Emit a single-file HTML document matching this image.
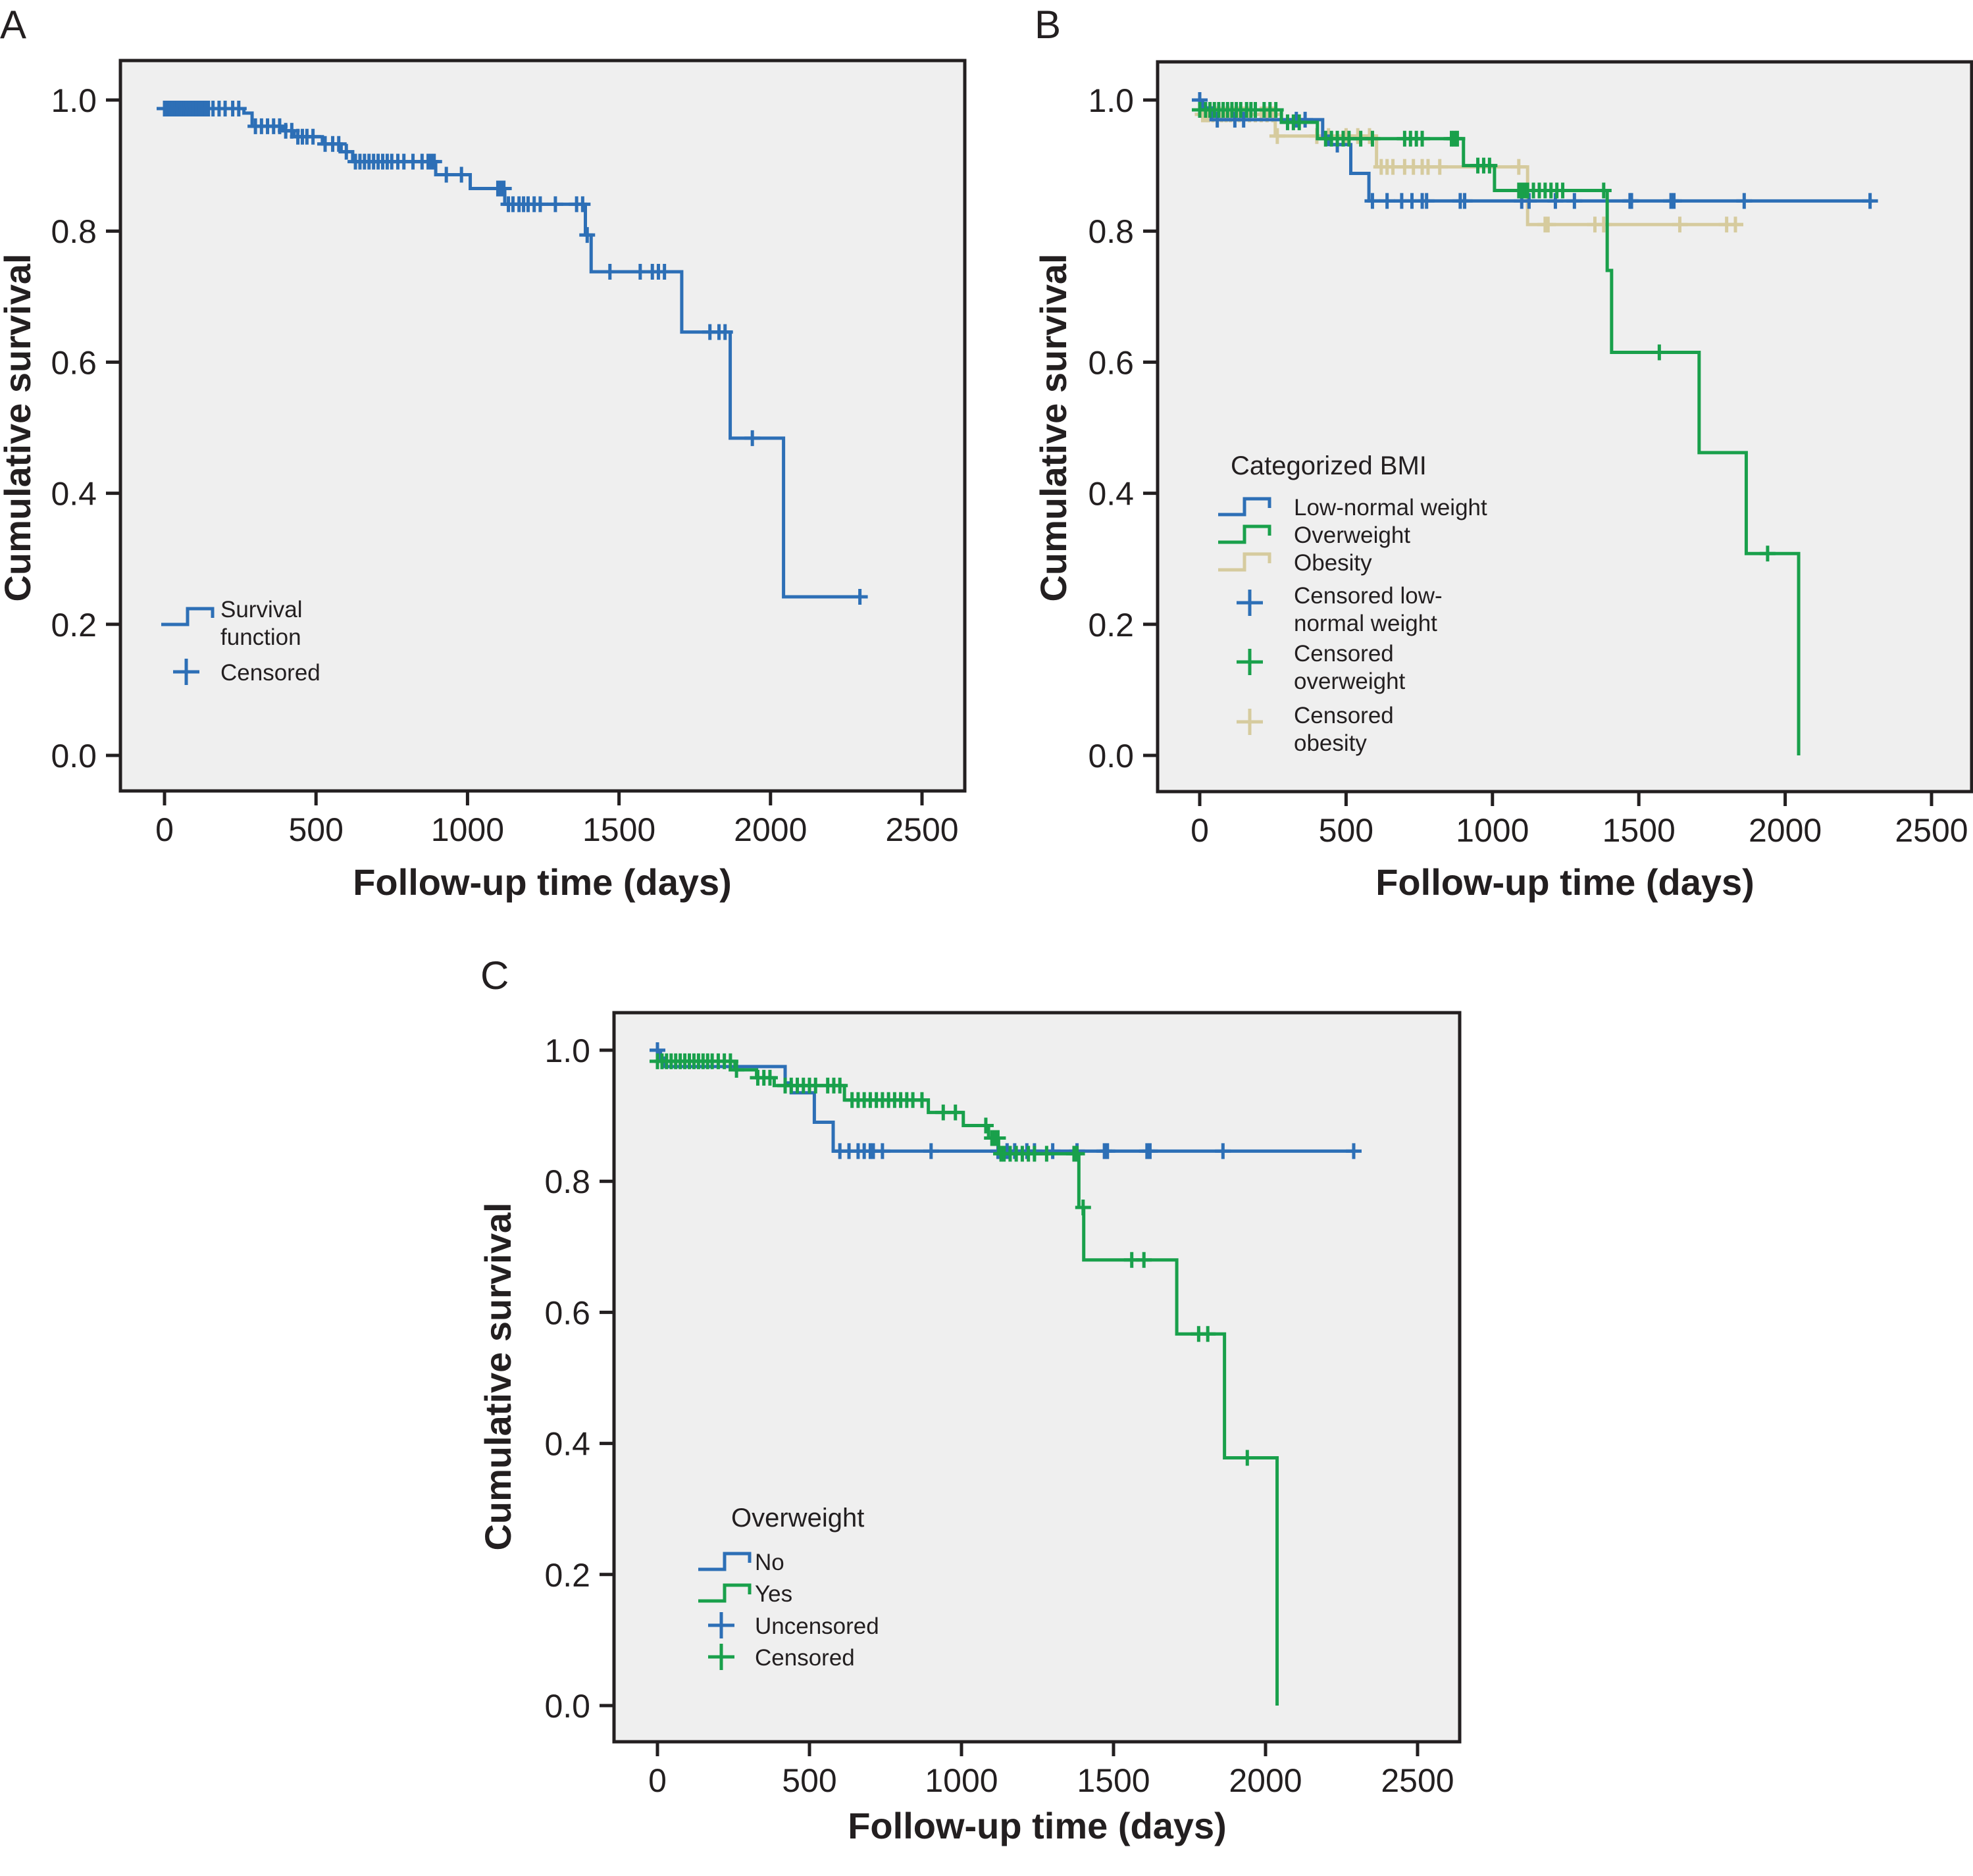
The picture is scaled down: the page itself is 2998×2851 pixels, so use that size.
<!DOCTYPE html>
<html><head><meta charset="utf-8"><style>
html,body{margin:0;padding:0;background:#fff;}
svg{display:block;font-family:"Liberation Sans",Arial,sans-serif;}
</style></head><body>
<svg id="fig" width="2998" height="2851" viewBox="0 0 2998 2851" xmlns="http://www.w3.org/2000/svg"></svg>
<script>
// ---- data ----
const xTicks = [0, 500, 1000, 1500, 2000, 2500];
const yTicks = [0, 0.2, 0.4, 0.6, 0.8, 1.0];

// Panel A: overall
const aStart = 0.987;
const aStepTimes = [262, 289, 390, 428, 521, 583, 621, 895, 1009, 1123, 1389, 1408, 1707, 1867, 2043];
const aStepValues = [0.980, 0.960, 0.953, 0.944, 0.933, 0.921, 0.906, 0.886, 0.865, 0.841, 0.794, 0.738, 0.646, 0.484, 0.242];
const aEnd = 2307;
const aCensor = [0,5,10,15,20,27,35,42,50,58,65,72,80,88,95,105,115,125,135,145,160,180,200,225,245,300,320,340,360,380,400,420,440,455,470,490,530,555,575,600,630,645,660,675,690,705,720,735,750,770,790,820,850,870,880,890,930,980,1100,1110,1115,1120,1135,1150,1170,1185,1200,1220,1240,1290,1360,1380,1395,1470,1570,1610,1630,1650,1800,1830,1850,1940,2295];

// Panel B: BMI categories
const bLowStart = 1.0;
const bLowTimes = [10, 40, 420, 440, 516, 578];
const bLowValues = [0.988, 0.970, 0.945, 0.932, 0.888, 0.846];
const bLowEnd = 2300;
const bLowCensor = [0,60,120,150,330,360,470,590,640,690,725,760,775,890,905,1100,1125,1215,1280,1470,1475,1610,1620,1860,2290];

const bOverStart = 0.985;
const bOverTimes = [279, 402, 901, 1007, 1392, 1407, 1706, 1867, 2046];
const bOverValues = [0.966, 0.941, 0.900, 0.862, 0.740, 0.615, 0.462, 0.308, 0.0];
const bOverEnd = 2046;
const bOverCensor = [0,20,35,50,65,80,95,110,125,140,160,175,190,220,240,260,300,320,340,430,450,470,490,510,550,590,700,720,740,760,860,870,880,950,970,990,1090,1100,1110,1120,1140,1160,1180,1200,1220,1240,1380,1570,1940];

const bObStart = 0.978;
const bObTimes = [258, 604, 1120];
const bObValues = [0.945, 0.898, 0.810];
const bObEnd = 1857;
const bObCensor = [10,20,30,45,60,75,90,105,120,135,150,170,190,210,230,250,265,400,440,500,540,580,620,640,660,700,730,760,780,820,1090,1180,1190,1350,1380,1640,1800,1830];

// Panel C: overweight no/yes
const cNoStart = 1.0;
const cNoTimes = [10, 25, 420, 440, 516, 578];
const cNoValues = [0.988, 0.975, 0.950, 0.935, 0.890, 0.846];
const cNoEnd = 2290;
const cNoCensor = [0,600,630,660,680,700,710,740,900,1120,1150,1175,1215,1240,1300,1380,1470,1480,1610,1620,1860,2290];

const cYesStart = 0.983;
const cYesTimes = [255, 326, 384, 615, 891, 1006, 1089, 1122, 1386, 1402, 1708, 1865, 2038];
const cYesValues = [0.970, 0.958, 0.946, 0.924, 0.905, 0.885, 0.866, 0.842, 0.760, 0.680, 0.567, 0.378, 0.0];
const cYesEnd = 2038;
const cYesCensor = [0,15,30,45,60,75,90,105,120,135,150,165,180,200,220,240,260,330,350,370,420,440,460,480,500,520,560,580,600,640,660,680,700,720,740,760,780,800,820,840,870,940,980,1080,1100,1110,1120,1130,1140,1160,1180,1200,1220,1240,1280,1370,1380,1400,1560,1600,1780,1810,1940];

// ---- drawing ----
const NS = "http://www.w3.org/2000/svg";
const svg = document.getElementById('fig');
const BLUE = "#2d6fb6", GREEN = "#19a04b", TAN = "#d6cb9e", INK = "#231f20";

function mk(tag, attrs, parent) {
  const e = document.createElementNS(NS, tag);
  for (const k in attrs) e.setAttribute(k, attrs[k]);
  (parent || svg).appendChild(e);
  return e;
}
function txt(s, attrs, parent) { const e = mk('text', attrs, parent); e.textContent = s; return e; }

function panel(p) {
  const g = mk('g', {});
  
  
  const sx = t => p.x0 + (t / 2500) * (p.x2500 - p.x0);
  const sy = v => p.y0 - v * (p.y0 - p.y1);
  const bg = mk('rect', {x: p.L, y: p.T, width: p.R - p.L, height: p.B - p.T, fill: '#efefef', stroke: INK, 'stroke-width': 5}, g);
  
  
  xTicks.forEach(t => {
    const x = sx(t);
    const l = mk('line', {x1: x, x2: x, y1: p.B, y2: p.B + 22, stroke: INK, 'stroke-width': 5}, g);
    
    
    const tl = txt(String(t), {x: x, y: p.B + 76, 'font-size': 50, 'text-anchor': 'middle', fill: INK}, g);
    
    
  });
  yTicks.forEach(v => {
    const y = sy(v);
    const l = mk('line', {x1: p.L - 22, x2: p.L, y1: y, y2: y, stroke: INK, 'stroke-width': 5}, g);
    
    
    const tl = txt(v.toFixed(1), {x: p.L - 36, y: y + 18, 'font-size': 50, 'text-anchor': 'end', fill: INK}, g);
    
    
  });
  const xt = txt('Follow-up time (days)', {x: p.xtX, y: p.xtY, 'font-size': 56, 'font-weight': 'bold', 'text-anchor': 'middle', fill: INK}, g);
  
  
  const yt = txt('Cumulative survival', {x: 0, y: 0, 'font-size': 56, 'font-weight': 'bold', 'text-anchor': 'middle', fill: INK, transform: `translate(${p.ytX},${p.ytY}) rotate(-90)`}, g);
  
  
  const lt = txt(p.letter, {x: p.letX, y: p.letY, 'font-size': 60, fill: INK}, g);
  
  
  return {g, sx, sy};
}

function series(P, start, times, values, end, censor, color, name) {
  const {g, sx, sy} = P;
  let d = `M${sx(0)},${sy(start)}`;
  let cur = start;
  for (let i = 0; i < times.length; i++) {
    d += ` H${sx(times[i])} V${sy(values[i])}`;
    cur = values[i];
  }
  d += ` H${sx(end)}`;
  const path = mk('path', {d: d, fill: 'none', stroke: color, 'stroke-width': 5}, g);
  
  
  const level = t => { let v = start; for (let i = 0; i < times.length; i++) if (times[i] <= t) v = values[i]; return v; };
  censor.forEach(t => {
    const x = sx(t), y = sy(level(t));
    const c = mk('path', {d: `M${x},${y - 12} V${y + 12} M${x - 12},${y} H${x + 12}`, stroke: color, 'stroke-width': 5, fill: 'none'}, g);
    
    
  });
}

function stepIcon(g, x, y, color, name) {
  const e = mk('path', {d: `M${x},${y + 12} H${x + 40} V${y - 12} H${x + 78} V${y + 2}`, fill: 'none', stroke: color, 'stroke-width': 5}, g);
  
  
}
function crossIcon(g, x, y, color, name) {
  const e = mk('path', {d: `M${x},${y - 20} V${y + 20} M${x - 20},${y} H${x + 20}`, fill: 'none', stroke: color, 'stroke-width': 5}, g);
  
  
}
function ltext(g, s, x, y, size, name) {
  const e = txt(s, {x: x, y: y, 'font-size': size || 35, fill: INK}, g);
  
  
}

// Panel A
const PA = panel({name: 'panel-a', L: 183, R: 1466, T: 92, B: 1202, x0: 250, x2500: 1401, y0: 1148, y1: 152,
  xtX: 824, xtY: 1360, ytX: 46, ytY: 650, letter: 'A', letX: 0, letY: 58});
series(PA, aStart, aStepTimes, aStepValues, aEnd, aCensor, BLUE, 'survival');
const la = mk('g', {}, PA.g);


stepIcon(la, 245, 937, BLUE, 'legend-survival-icon');
ltext(la, 'Survival', 335, 938, 35, 'legend-survival-text');
ltext(la, 'function', 335, 980, 35, 'legend-survival-text-2');
crossIcon(la, 283, 1021, BLUE, 'legend-censored-icon');
ltext(la, 'Censored', 335, 1034, 35, 'legend-censored-text');

// Panel B
const PB = panel({name: 'panel-b', L: 1759, R: 2996, T: 94, B: 1203, x0: 1823, x2500: 2935, y0: 1148, y1: 152,
  xtX: 2378, xtY: 1360, ytX: 1620, ytY: 650, letter: 'B', letX: 1572, letY: 58});
series(PB, bObStart, bObTimes, bObValues, bObEnd, bObCensor, TAN, 'obesity');
series(PB, bLowStart, bLowTimes, bLowValues, bLowEnd, bLowCensor, BLUE, 'low-normal');
series(PB, bOverStart, bOverTimes, bOverValues, bOverEnd, bOverCensor, GREEN, 'overweight');
const lb = mk('g', {}, PB.g);


ltext(lb, 'Categorized BMI', 1870, 721, 40, 'legend-title');
stepIcon(lb, 1851, 770, BLUE, 'legend-low-normal-icon');
ltext(lb, 'Low-normal weight', 1966, 783, 35, 'legend-low-normal-text');
stepIcon(lb, 1851, 812, GREEN, 'legend-overweight-icon');
ltext(lb, 'Overweight', 1966, 825, 35, 'legend-overweight-text');
stepIcon(lb, 1851, 854, TAN, 'legend-obesity-icon');
ltext(lb, 'Obesity', 1966, 867, 35, 'legend-obesity-text');
crossIcon(lb, 1899, 916, BLUE, 'legend-censored-low-icon');
ltext(lb, 'Censored low-', 1966, 917, 35, 'legend-censored-low-text');
ltext(lb, 'normal weight', 1966, 959, 35, 'legend-censored-low-text-2');
crossIcon(lb, 1899, 1006, GREEN, 'legend-censored-over-icon');
ltext(lb, 'Censored', 1966, 1005, 35, 'legend-censored-over-text');
ltext(lb, 'overweight', 1966, 1047, 35, 'legend-censored-over-text-2');
crossIcon(lb, 1899, 1097, TAN, 'legend-censored-obesity-icon');
ltext(lb, 'Censored', 1966, 1099, 35, 'legend-censored-obesity-text');
ltext(lb, 'obesity', 1966, 1141, 35, 'legend-censored-obesity-text-2');

// Panel C
const PC = panel({name: 'panel-c', L: 933, R: 2218, T: 1539, B: 2647, x0: 999, x2500: 2154, y0: 2592, y1: 1596,
  xtX: 1576, xtY: 2794, ytX: 776, ytY: 2092, letter: 'C', letX: 730, letY: 1503});
series(PC, cNoStart, cNoTimes, cNoValues, cNoEnd, cNoCensor, BLUE, 'not-overweight');
series(PC, cYesStart, cYesTimes, cYesValues, cYesEnd, cYesCensor, GREEN, 'overweight');
const lc = mk('g', {}, PC.g);


ltext(lc, 'Overweight', 1111, 2320, 40, 'legend-title');
stepIcon(lc, 1061, 2373, BLUE, 'legend-no-icon');
ltext(lc, 'No', 1147, 2386, 35, 'legend-no-text');
stepIcon(lc, 1061, 2421, GREEN, 'legend-yes-icon');
ltext(lc, 'Yes', 1147, 2434, 35, 'legend-yes-text');
crossIcon(lc, 1096, 2470, BLUE, 'legend-uncensored-icon');
ltext(lc, 'Uncensored', 1147, 2483, 35, 'legend-uncensored-text');
crossIcon(lc, 1096, 2518, GREEN, 'legend-censored-icon');
ltext(lc, 'Censored', 1147, 2531, 35, 'legend-censored-text');
</script>
</body></html>
